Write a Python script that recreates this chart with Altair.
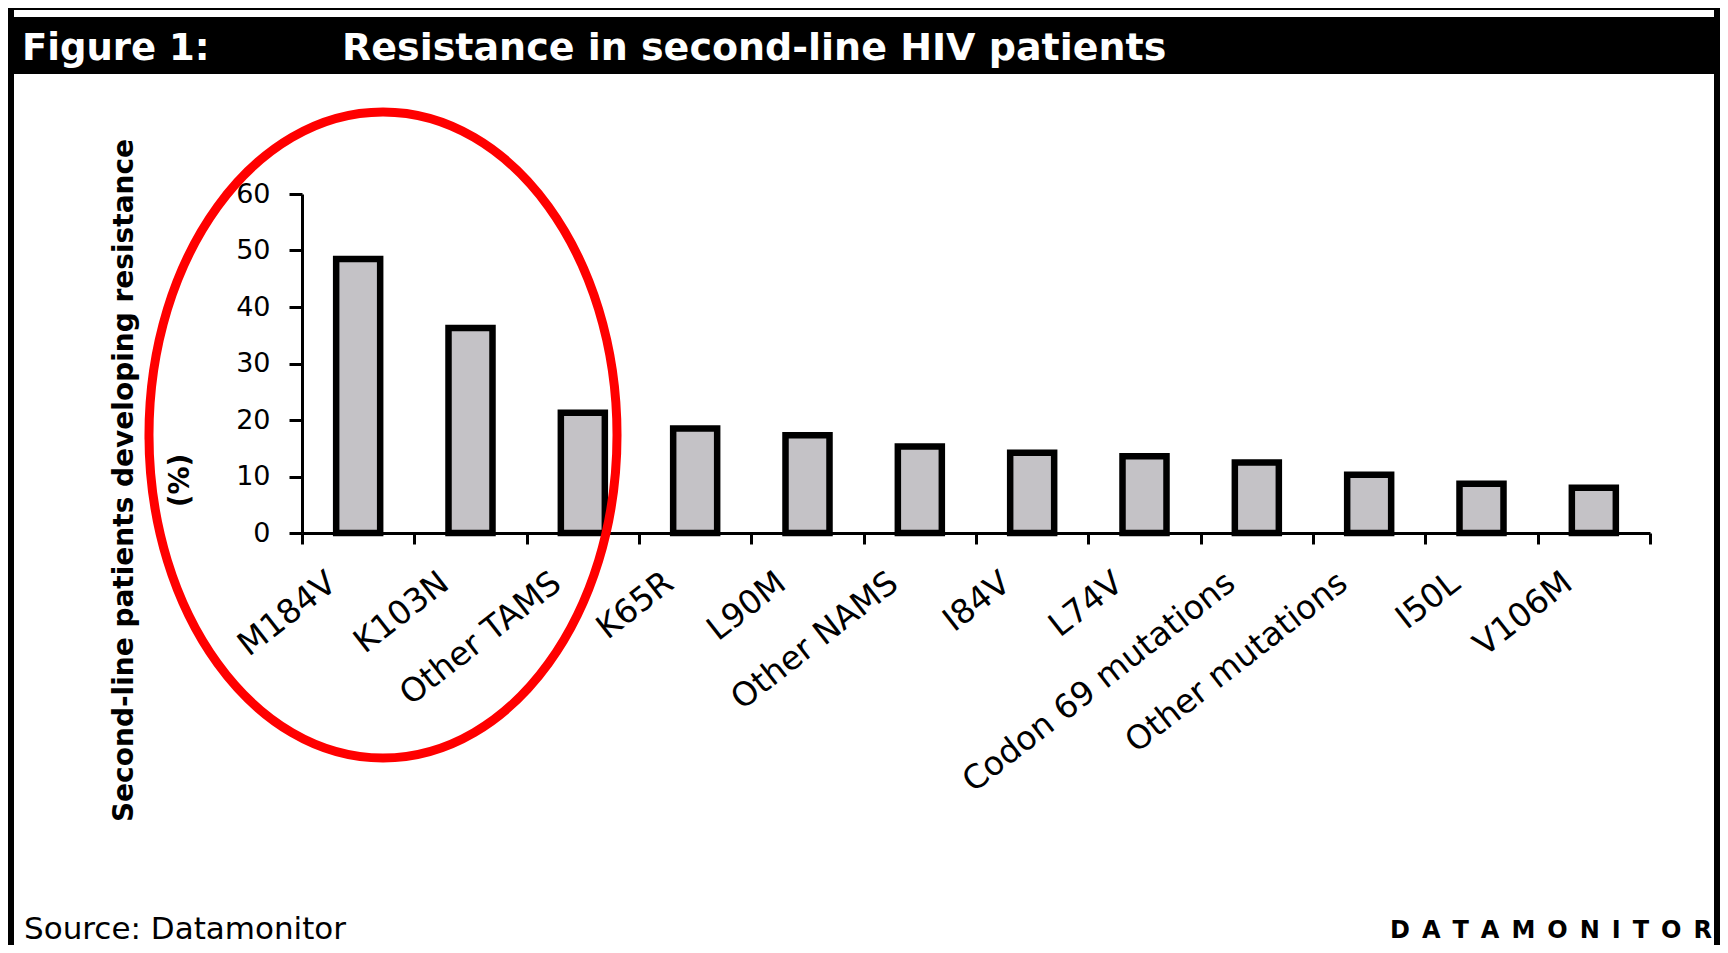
import altair as alt
import pandas as pd

# ---- data ----
categories = ["M184V", "K103N", "Other TAMS", "K65R", "L90M", "Other NAMS",
              "I84V", "L74V", "Codon 69 mutations", "Other mutations", "I50L", "V106M"]
values = [48.5, 36.3, 21.3, 18.5, 17.3, 15.3, 14.2, 13.6, 12.5, 10.3, 8.7, 8.0]
y_ticks = [0, 10, 20, 30, 40, 50, 60]

figure_label = "Figure 1:"
title_text = "Resistance in second-line HIV patients"
y_title = ["Second-line patients developing resistance", "(%)"]
source_text = "Source: Datamonitor"
brand_text = "\u2002".join("DATAMONITOR")

df = pd.DataFrame({"mutation": categories, "pct": values})
one = pd.DataFrame({"k": [0]})

W, H = 1348, 339
FONT = "DejaVu Sans"

x_enc = alt.X(
    "mutation:N",
    sort=categories,
    scale=alt.Scale(paddingInner=0, paddingOuter=0),
    axis=alt.Axis(
        title=None,
        labelAngle=-38,
        labelAlign="right",
        labelBaseline="top",
        labelOffset=-36,
        labelPadding=22,
        labelFont=FONT,
        labelFontSize=33,
        labelColor="black",
        labelLimit=1000,
        labelOverlap=False,
        labelFlush=False,
        tickBand="extent",
        tickSize=11,
        tickWidth=3,
        tickColor="black",
        domainColor="black",
        domainWidth=3,
        grid=False,
    ),
)

y_enc = alt.Y(
    "pct:Q",
    scale=alt.Scale(domain=[0, 60], nice=False),
    axis=alt.Axis(
        values=y_ticks,
        tickSize=13,
        tickWidth=3,
        tickColor="black",
        domainColor="black",
        domainWidth=3,
        labelFont=FONT,
        labelFontSize=27,
        labelColor="black",
        labelPadding=19,
        grid=False,
        title=y_title,
        titleFont=FONT,
        titleFontWeight="bold",
        titleFontSize=28,
        titleColor="black",
        titleAngle=270,
        titleAlign="center",
        titleBaseline="middle",
        titleLineHeight=56,
        titleX=-178,
        titleY=286,
    ),
)

bars = alt.Chart(df).mark_bar(
    size=44, color="#C4C2C6", stroke="black", strokeWidth=6.5
).encode(x=x_enc, y=y_enc)

# ---- frame / header decorations ----
def rect(x, x2, y, y2, color):
    return alt.Chart(one).mark_rect(color=color).encode(
        x=alt.value(x), x2=alt.value(x2), y=alt.value(y), y2=alt.value(y2)
    )

band = rect(-294, 1418, -186, -120, "black")
strip = rect(-288, 1412, -184, -177, "white")
left_border = rect(-294, -288, -186, 760, "black")
right_border = rect(1412, 1418, -186, 760, "black")

def text(x, y, s, size, color="black", weight="normal", align="left"):
    return alt.Chart(one).mark_text(
        font=FONT, fontSize=size, fontWeight=weight, color=color,
        align=align, baseline="alphabetic"
    ).encode(x=alt.value(x), y=alt.value(y), text=alt.value(s))

fig_lbl = text(-280, -134, figure_label, 37, "white", "bold")
title = text(40, -134, title_text, 38, "white", "bold")
source = text(-278, 745, source_text, 31)
brand = text(1410, 744, brand_text, 24, weight="bold", align="right")

# ---- red highlight ellipse ----
rx_ratio = 0.7245
ellipse_path = (f"M {-rx_ratio} 0 A {rx_ratio} 1 0 1 1 {rx_ratio} 0 "
                f"A {rx_ratio} 1 0 1 1 {-rx_ratio} 0 Z")
ellipse = alt.Chart(one).mark_point(
    shape=ellipse_path, size=646 * 646, filled=False, color="#FF0000",
    strokeWidth=9, opacity=1
).encode(x=alt.value(81), y=alt.value(241))

chart = alt.layer(
    band, strip, left_border, right_border, fig_lbl, title,
    bars, source, brand, ellipse
).properties(
    width=W, height=H,
    autosize=alt.AutoSizeParams(type="none"),
    padding={"left": 294, "top": 186, "right": 70, "bottom": 412},
    background="white",
).configure_view(stroke=None)

chart.save("out.html", embed_options={"renderer": "svg", "actions": False})
